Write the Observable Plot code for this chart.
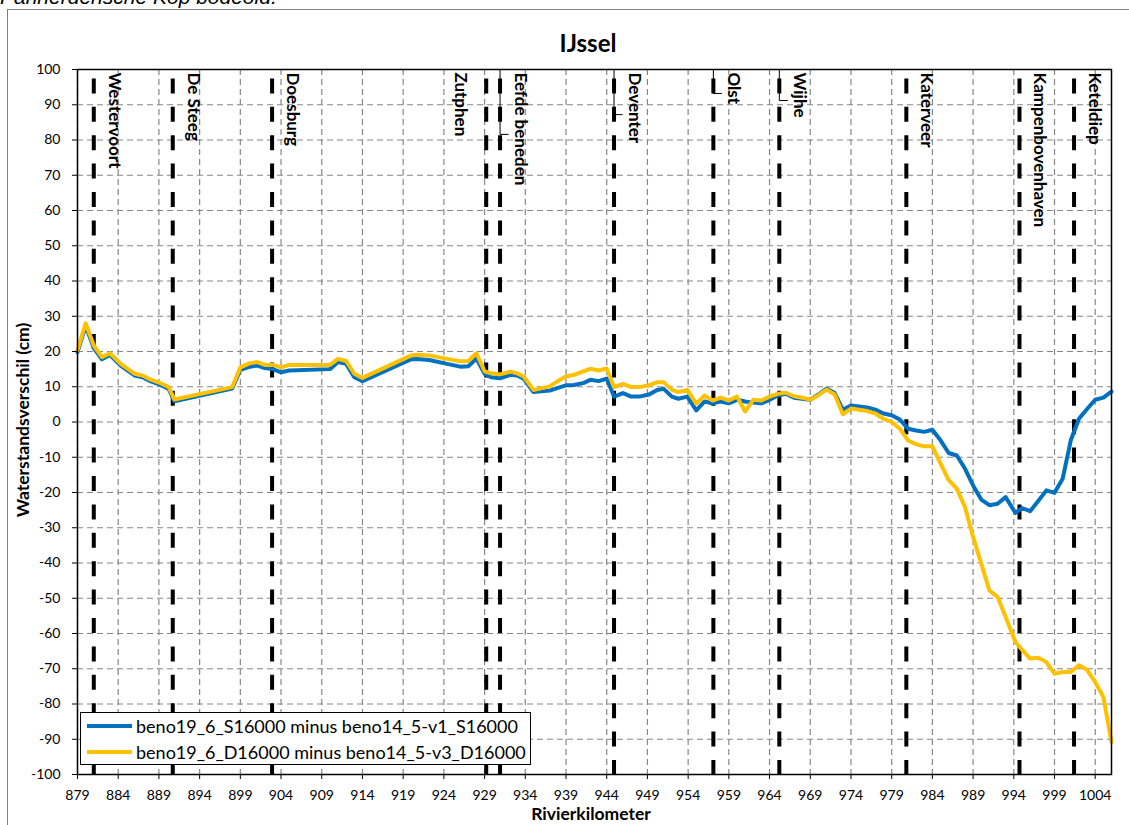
<!DOCTYPE html>
<html>
<head>
<meta charset="utf-8">
<script src="https://cdn.jsdelivr.net/npm/d3@7"></script>
<script src="https://cdn.jsdelivr.net/npm/@observablehq/plot@0.6"></script>
<style>
  html, body { margin: 0; padding: 0; background: #fff; }
  body { width: 1129px; height: 825px; position: relative; overflow: hidden; font-family: Lato, "Noto Sans", sans-serif; }
  #caption-top { position: absolute; left: 0; top: -14px; font: italic 21px/21px "Liberation Sans", Arial, sans-serif; color: #000; white-space: nowrap; }
  #chart-area { position: absolute; left: 7px; top: 9px; width: 1200px; height: 900px; border-left: 1px solid #808080; border-top: 1px solid #808080; }
  #plot { position: absolute; left: 0; top: 0; }
  #title { position: absolute; left: 588px; top: 42px; transform: translate(-50%, -50%); font-weight: bold; font-size: 24px; white-space: nowrap; }
  #xlabel { position: absolute; left: 591px; top: 814px; transform: translate(-50%, -50%); font-weight: bold; font-size: 17.5px; line-height: 18px; white-space: nowrap; }
  #ylabel { position: absolute; left: 22px; top: 420px; transform: translate(-50%, -50%) rotate(-90deg); font-weight: bold; font-size: 17.5px; white-space: nowrap; }
  #legend { position: absolute; left: 80px; top: 712px; width: 451px; height: 53px; background: #fff; border: 1.5px solid #000; box-sizing: border-box; }
  .legend-row { position: absolute; left: 6px; height: 26px; display: flex; align-items: center; font-size: 18px; white-space: nowrap; }
  .legend-row svg { margin-right: 4px; }
</style>
</head>
<body>
<div id="caption-top">Pannerdensche Kop bodeold.</div>
<div id="chart-area"></div>
<div id="plot"></div>
<div id="title">IJssel</div>
<div id="xlabel">Rivierkilometer</div>
<div id="ylabel">Waterstandsverschil (cm)</div>
<div id="legend"></div>
<script>
// River kilometres along the IJssel where the water level differences were sampled
const km = [
  879, 880, 881, 882, 883, 884.3, 886, 887, 888, 889.2, 890.2, 890.9, 898, 899, 900.2, 901.1,
  902, 903, 904, 905, 910, 911, 912, 913, 914, 920, 920.7, 922.2, 924.4, 926, 927, 928,
  929, 929.8, 930.9, 932.2, 933, 933.8, 935, 937, 938, 939, 940, 941.2, 942, 943, 944, 944.9,
  946, 947, 948, 949.2, 950.2, 951, 952, 952.8, 953.9, 955, 956, 957, 958, 959, 960, 961,
  962, 963, 964, 965, 966, 967, 968, 969, 970, 971, 972, 973, 974, 975, 976, 977,
  978, 979, 980, 981, 982, 983, 984, 985, 986, 987, 988, 989, 990, 991, 992, 993,
  994.2, 995, 996, 997, 998, 999, 1000, 1001, 1002, 1003, 1004, 1005, 1006
];

// beno19_6_S16000 minus beno14_5-v1_S16000 (cm)
const diffS16000 = [
  19.8, 27.3, 21.0, 17.8, 19.0, 16.0, 13.2, 12.7, 11.5, 10.5, 9.4, 5.9, 9.5, 14.8, 15.7, 16.0,
  15.3, 15.0, 14.1, 14.6, 15.0, 17.0, 16.5, 12.7, 11.6, 17.8, 17.9, 17.6, 16.5, 15.7, 15.8, 18.0,
  13.7, 12.7, 12.4, 13.4, 13.2, 12.3, 8.5, 8.9, 9.7, 10.4, 10.5, 11.1, 12.0, 11.6, 12.3, 7.2,
  8.2, 7.2, 7.2, 7.8, 9.1, 9.4, 7.2, 6.6, 7.2, 3.3, 5.8, 5.3, 5.8, 5.3, 6.3, 5.8,
  5.5, 5.3, 6.3, 7.5, 8.0, 6.9, 6.6, 6.3, 7.8, 9.5, 8.2, 3.5, 4.7, 4.4, 4.1, 3.5,
  2.4, 1.9, 0.7, -1.9, -2.4, -2.8, -2.2, -5.2, -8.8, -9.5, -13.2, -18.0, -22.0, -23.6, -23.2, -21.3,
  -25.8, -24.4, -25.3, -22.4, -19.4, -20.1, -16.1, -5.2, 0.9, 3.7, 6.3, 6.9, 8.6
];

// beno19_6_D16000 minus beno14_5-v3_D16000 (cm)
const diffD16000 = [
  20.3, 28.0, 21.7, 18.4, 19.5, 16.5, 13.7, 13.2, 12.0, 11.0, 9.9, 6.4, 9.9, 15.5, 16.7, 17.0,
  16.2, 16.2, 15.5, 16.2, 16.2, 17.9, 17.3, 13.7, 12.5, 18.9, 19.1, 18.9, 17.9, 17.2, 17.3, 19.5,
  14.4, 13.8, 13.5, 14.3, 13.8, 12.9, 9.1, 10.1, 11.6, 12.9, 13.4, 14.4, 15.1, 14.6, 15.2, 9.9,
  10.8, 9.9, 9.9, 10.4, 11.3, 11.3, 9.1, 8.5, 9.1, 5.2, 7.5, 6.1, 6.9, 6.1, 7.2, 3.0,
  6.3, 6.1, 7.2, 8.0, 8.3, 7.3, 6.9, 6.3, 7.6, 9.2, 7.8, 2.2, 3.8, 3.5, 3.1, 2.4,
  0.9, 0.0, -1.9, -5.2, -6.3, -6.9, -6.9, -11.8, -16.5, -18.9, -24.1, -32.6, -40.2, -47.8, -49.6, -55.3,
  -62.4, -64.6, -67.1, -66.9, -68.1, -71.4, -70.9, -70.9, -69.0, -70.3, -73.8, -78.0, -90.8
];

const seriesNames = [
  "beno19_6_S16000 minus beno14_5-v1_S16000",
  "beno19_6_D16000 minus beno14_5-v3_D16000"
];
const seriesColors = ["#0070C0", "#FFC000"];

// Measuring stations along the river
const stationNames = ["Westervoort", "De Steeg", "Doesburg", "Zutphen", "Eefde beneden", "Deventer",
  "Olst", "Wijhe", "Katerveer", "Kampenbovenhaven", "Keteldiep"];
const stationKm = [881.0, 890.7, 902.9, 929.2, 930.9, 944.9, 957.1, 965.2, 980.8, 994.7, 1001.4];

// Leader lines of the station labels that were moved off their line
const leaderStations = ["Eefde beneden", "Deventer", "Olst", "Wijhe"];
const leaderEnd = [81.6, 87.2, 93.2, 91.2];

const xTicks = d3.range(879, 1005, 5);
const yTicks = d3.range(-100, 101, 10);

const rows = km.flatMap((k, i) => [
  {km: k, value: diffS16000[i], series: seriesNames[0]},
  {km: k, value: diffD16000[i], series: seriesNames[1]}
]);
const stations = stationNames.map((name, i) => ({name, km: stationKm[i]}));
const leaders = leaderStations.flatMap((name, i) => {
  const k = stationKm[stationNames.indexOf(name)];
  return [
    {name, km: k, v: 100},
    {name, km: k, v: leaderEnd[i]},
    {name, km: k + 1, v: leaderEnd[i]}
  ];
});

const labelStyle = {x: "km", text: "name", frameAnchor: "top", rotate: 90, textAnchor: "start",
  dy: 3, fontWeight: "bold", fontSize: 17, fill: "#000"};

const chart = Plot.plot({
  width: 1129,
  height: 825,
  marginLeft: 77,
  marginRight: 18,
  marginTop: 69,
  marginBottom: 51,
  style: {fontFamily: "Lato, 'Noto Sans', sans-serif", fontSize: "14px", background: "transparent", overflow: "visible"},
  x: {domain: [879, 1006]},
  y: {domain: [-100, 100]},
  color: {domain: seriesNames, range: seriesColors},
  marks: [
    Plot.gridX(xTicks, {stroke: "#878787", strokeOpacity: 1, strokeWidth: 1.2, strokeDasharray: "6,4"}),
    Plot.gridY(yTicks, {stroke: "#878787", strokeOpacity: 1, strokeWidth: 1.2, strokeDasharray: "6,4"}),
    Plot.ruleX(stations, {x: "km", stroke: "#000", strokeWidth: 4, strokeDasharray: "15,13.4", strokeDashoffset: 19}),
    Plot.line(leaders, {x: "km", y: "v", z: "name", stroke: "#000", strokeWidth: 1}),
    Plot.line(rows, {x: "km", y: "value", z: "series", stroke: "series", strokeWidth: 4, strokeLinejoin: "round"}),
    Plot.text(stations.filter(d => d.name !== "Zutphen"), {...labelStyle, dx: 27}),
    Plot.text(stations.filter(d => d.name === "Zutphen"), {...labelStyle, dx: -19}),
    Plot.frame({stroke: "#000", strokeWidth: 1.5}),
    Plot.axisX(xTicks, {tickSize: 5, tickPadding: 11, tickFormat: d => String(d), label: null, fontSize: 14}),
    Plot.axisY(yTicks, {tickSize: 5, tickPadding: 12, tickFormat: d => String(d), label: null, fontSize: 14})
  ]
});
document.getElementById("plot").append(chart);

// Legend drawn over the lower left corner of the plot
const legend = document.getElementById("legend");
seriesNames.forEach((name, i) => {
  const row = document.createElement("div");
  row.className = "legend-row";
  row.style.top = (i === 0 ? 0 : 26) + "px";
  row.innerHTML = `<svg width="45" height="8"><line x1="0" y1="4" x2="45" y2="4" stroke="${seriesColors[i]}" stroke-width="4"/></svg><span>${name}</span>`;
  legend.append(row);
});
</script>
</body>
</html>
